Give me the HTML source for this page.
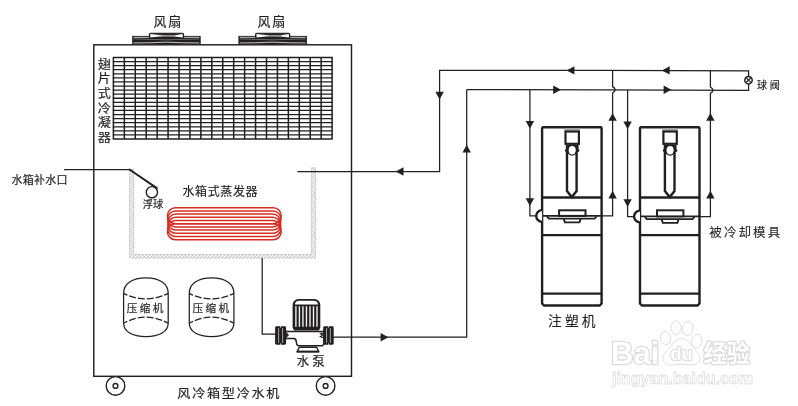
<!DOCTYPE html>
<html lang="zh-CN">
<head>
<meta charset="utf-8">
<title>风冷箱型冷水机</title>
<style>
html,body{margin:0;padding:0;background:#fff;}
body{width:798px;height:406px;overflow:hidden;}
svg{display:block;will-change:transform;}
text{font-family:"Liberation Sans","Noto Sans CJK SC",sans-serif;fill:#231f20;stroke:#231f20;stroke-width:0.18;}
.l{stroke:#231f20;fill:none;stroke-width:1.25;}
.t{stroke:#231f20;fill:none;stroke-width:2.4;}
.a{fill:#231f20;stroke:none;}
text.wm{fill:#fff;stroke:#dadada;stroke-width:0.9;}
text.wm2{fill:#fff;stroke:#dcdcdc;stroke-width:2.6;paint-order:stroke;stroke-linejoin:round;}
</style>
</head>
<body>
<svg width="798" height="406" viewBox="0 0 798 406">
<rect width="798" height="406" fill="#fff"/>

<!-- cabinet -->
<rect style="stroke-width:1.45" class="l" x="93.8" y="44.8" width="257.7" height="331.5"/>
<!-- fans -->
<g transform="translate(132.2,0)">
<rect x="0" y="35.9" width="68.5" height="8.4" fill="#231f20"/>
<path d="M1.4 37.3H67.1" stroke="#fff" stroke-width="0.75"/>
<path d="M1.4 38.9Q34 40.8 67.100 38.9" stroke="#9a9a9a" stroke-width="0.6" fill="none"/>
<path d="M1.4 42.9Q18 43 30 42.300L34.300 42.2L38.500 42.300Q50 43 67.100 42.9" stroke="#fff" stroke-width="0.75" fill="none"/>
<rect x="17.200" y="33.3" width="34.2" height="4.9" rx="1.2" fill="#231f20" stroke="#231f20" stroke-width="1.1"/>
<path d="M18.100 34L29.500 35.3V36.3L18.100 37.6Z M50.5 34L42.5 35.200V36.400L50.5 37.600Z" fill="#fff"/>
<path d="M29 35.400L42.5 36.600M29 36.400L42.5 35.200" stroke="#fff" stroke-width="0.5" fill="none"/>
</g>
<g transform="translate(238.4,0)">
<rect x="0" y="35.9" width="68.5" height="8.4" fill="#231f20"/>
<path d="M1.4 37.3H67.1" stroke="#fff" stroke-width="0.75"/>
<path d="M1.4 38.9Q34 40.8 67.100 38.9" stroke="#9a9a9a" stroke-width="0.6" fill="none"/>
<path d="M1.4 42.9Q18 43 30 42.300L34.300 42.2L38.500 42.300Q50 43 67.100 42.9" stroke="#fff" stroke-width="0.75" fill="none"/>
<rect x="17.200" y="33.3" width="34.2" height="4.9" rx="1.2" fill="#231f20" stroke="#231f20" stroke-width="1.1"/>
<path d="M18.100 34L29.500 35.3V36.3L18.100 37.6Z M50.5 34L42.5 35.200V36.400L50.5 37.600Z" fill="#fff"/>
<path d="M29 35.400L42.5 36.600M29 36.400L42.5 35.200" stroke="#fff" stroke-width="0.5" fill="none"/>
</g>
<text x="153.6" y="26.3" font-size="13" letter-spacing="1.6">风扇</text>
<text x="257.6" y="26.3" font-size="13" letter-spacing="1.6">风扇</text>
<!-- condenser -->
<path d="M112.8 57.50H332.7M112.8 61.58H332.7M112.8 65.65H332.7M112.8 69.72H332.7M112.8 73.80H332.7M112.8 77.88H332.7M112.8 81.95H332.7M112.8 86.03H332.7M112.8 90.10H332.7M112.8 94.17H332.7M112.8 98.25H332.7M112.8 102.33H332.7M112.8 106.40H332.7M112.8 110.47H332.7M112.8 114.55H332.7M112.8 118.62H332.7M112.8 122.70H332.7M112.8 126.78H332.7M112.8 130.85H332.7M112.8 134.93H332.7M112.8 139.00H332.7" stroke="#231f20" stroke-width="1.3" fill="none"/>
<path d="M113.40 57.5V139.0M124.34 57.5V139.0M135.27 57.5V139.0M146.21 57.5V139.0M157.14 57.5V139.0M168.07 57.5V139.0M179.01 57.5V139.0M189.94 57.5V139.0M200.88 57.5V139.0M211.81 57.5V139.0M222.75 57.5V139.0M233.69 57.5V139.0M244.62 57.5V139.0M255.56 57.5V139.0M266.49 57.5V139.0M277.43 57.5V139.0M288.36 57.5V139.0M299.30 57.5V139.0M310.23 57.5V139.0M321.17 57.5V139.0M332.10 57.5V139.0" stroke="#231f20" stroke-width="1.5" fill="none"/>
<text transform="translate(104.3 68.7) scale(1.05 0.97)" font-size="12.5" text-anchor="middle"><tspan x="0" y="0.00">翅</tspan><tspan x="0" y="15.07">片</tspan><tspan x="0" y="30.14">式</tspan><tspan x="0" y="45.22">冷</tspan><tspan x="0" y="60.29">凝</tspan><tspan x="0" y="75.36">器</tspan></text>
<!-- water tank -->
<path d="M129.6 172.0L133.2 169.5M129.6 174.5L133.7 171.6M129.6 177.0L133.7 174.1M129.6 179.5L133.7 176.6M129.6 182.0L133.7 179.1M129.6 184.5L133.7 181.6M129.6 187.0L133.7 184.1M129.6 189.5L133.7 186.6M129.6 192.0L133.7 189.1M129.6 194.5L133.7 191.6M129.6 197.0L133.7 194.1M129.6 199.5L133.7 196.6M129.6 202.0L133.7 199.1M129.6 204.5L133.7 201.6M129.6 207.0L133.7 204.1M129.6 209.5L133.7 206.6M129.6 212.0L133.7 209.1M129.6 214.5L133.7 211.6M129.6 217.0L133.7 214.1M129.6 219.5L133.7 216.6M129.6 222.0L133.7 219.1M129.6 224.5L133.7 221.6M129.6 227.0L133.7 224.1M129.6 229.5L133.7 226.6M129.6 232.0L133.7 229.1M129.6 234.5L133.7 231.6M129.6 237.0L133.7 234.1M129.6 239.5L133.7 236.6M129.6 242.0L133.7 239.1M129.6 244.5L133.7 241.6M129.6 247.0L133.7 244.1M129.6 249.5L133.7 246.6M129.6 252.0L133.7 249.1M129.6 254.5L133.7 251.6M129.6 257.0L133.7 254.1M131.7 258.0L133.7 256.6M133.7 256.6L136.6 254.6M135.3 258.0L140.2 254.6M138.9 258.0L143.7 254.6M142.5 258.0L147.3 254.6M146.0 258.0L150.9 254.6M149.6 258.0L154.5 254.6M153.2 258.0L158.0 254.6M156.7 258.0L161.6 254.6M160.3 258.0L165.2 254.6M163.9 258.0L168.7 254.6M167.5 258.0L172.3 254.6M171.0 258.0L175.9 254.6M174.6 258.0L179.5 254.6M178.2 258.0L183.0 254.6M181.7 258.0L186.6 254.6M311.3 169.8L314.2 167.8M185.3 258.0L190.2 254.6M311.3 172.3L315.4 169.4M188.9 258.0L193.7 254.6M311.3 174.8L315.4 171.9M192.5 258.0L197.3 254.6M311.3 177.3L315.4 174.4M196.0 258.0L200.9 254.6M311.3 179.8L315.4 176.9M199.6 258.0L204.5 254.6M311.3 182.3L315.4 179.4M203.2 258.0L208.0 254.6M311.3 184.8L315.4 181.9M206.7 258.0L211.6 254.6M311.3 187.3L315.4 184.4M210.3 258.0L215.2 254.6M311.3 189.8L315.4 186.9M213.9 258.0L218.7 254.6M311.3 192.3L315.4 189.4M217.5 258.0L222.3 254.6M311.3 194.8L315.4 191.9M221.0 258.0L225.9 254.6M311.3 197.3L315.4 194.4M224.6 258.0L229.5 254.6M311.3 199.8L315.4 196.9M228.2 258.0L233.0 254.6M311.3 202.3L315.4 199.4M231.7 258.0L236.6 254.6M311.3 204.8L315.4 201.9M235.3 258.0L240.2 254.6M311.3 207.3L315.4 204.4M238.9 258.0L243.7 254.6M311.3 209.8L315.4 206.9M242.5 258.0L247.3 254.6M311.3 212.3L315.4 209.4M246.0 258.0L250.9 254.6M311.3 214.8L315.4 211.9M249.6 258.0L254.5 254.6M311.3 217.3L315.4 214.4M253.2 258.0L258.0 254.6M311.3 219.8L315.4 216.9M256.7 258.0L261.6 254.6M311.3 222.3L315.4 219.4M260.3 258.0L265.2 254.6M311.3 224.8L315.4 221.9M263.9 258.0L268.7 254.6M311.3 227.3L315.4 224.4M267.5 258.0L272.3 254.6M311.3 229.8L315.4 226.9M271.0 258.0L275.9 254.6M311.3 232.3L315.4 229.4M274.6 258.0L279.5 254.6M311.3 234.8L315.4 231.9M278.2 258.0L283.0 254.6M311.3 237.3L315.4 234.4M281.7 258.0L286.6 254.6M311.3 239.8L315.4 236.9M285.3 258.0L290.2 254.6M311.3 242.3L315.4 239.4M288.9 258.0L293.7 254.6M311.3 244.8L315.4 241.9M292.5 258.0L297.3 254.6M311.3 247.3L315.4 244.4M296.0 258.0L300.9 254.6M311.3 249.8L315.4 246.9M299.6 258.0L304.5 254.6M311.3 252.3L315.4 249.4M303.2 258.0L308.0 254.6M311.3 254.8L315.4 251.9M306.7 258.0L311.3 254.8M311.3 257.3L315.4 254.4M310.3 258.0L311.3 257.3M313.9 258.0L315.4 256.9" stroke="#9e9e9e" stroke-width="0.65" fill="none"/>
<path d="M129.6 169.5V258H315.4V167.8H311.3V254.6H133.7V169.5Z" fill="none" stroke="#b8b8b8" stroke-width="0.6"/>
<path class="l" d="M64 169.5H129.5"/>
<path d="M129.5 169.5L156.8 188.2" stroke="#231f20" stroke-width="2.0" fill="none" stroke-linecap="round"/>
<circle cx="151.9" cy="192.2" r="5.6" stroke="#231f20" stroke-width="1.4" fill="none"/>
<text x="11.6" y="184.3" font-size="11" letter-spacing="0.2">水箱补水口</text>
<text x="142.7" y="208.3" font-size="10.3" letter-spacing="0">浮球</text>
<text x="182.5" y="195.8" font-size="12" letter-spacing="0.6">水箱式蒸发器</text>
<g stroke="#d72c22" stroke-width="1.5" fill="none">
<rect x="167.4" y="207.70" width="113.8" height="16" rx="8" ry="8"/>
<rect x="167.65" y="210.90" width="113.3" height="16" rx="8" ry="8"/>
<rect x="167.9" y="214.10" width="112.8" height="16" rx="8" ry="8"/>
<rect x="167.9" y="217.30" width="112.8" height="16" rx="8" ry="8"/>
<rect x="167.65" y="220.50" width="113.3" height="16" rx="8" ry="8"/>
<rect x="167.4" y="223.70" width="113.8" height="16" rx="8" ry="8"/>
</g>
<!-- compressors -->
<path class="l" d="M123.6 293.4C123.6 283.8 132.1 277.9 145.9 277.9C159.7 277.9 168.2 283.8 168.2 293.4V323.2C168.2 331.4 159.7 336.5 145.9 336.5C132.1 336.5 123.6 331.4 123.6 323.2Z"/>
<path class="l" stroke-dasharray="7 2" stroke-dashoffset="3" d="M123.6 293.4Q145.9 304.4 168.2 293.4"/>
<path class="l" stroke-dasharray="7 2" stroke-dashoffset="3" d="M123.6 323.2Q145.9 311.200 168.2 323.2"/>
<text x="126.8" y="311.8" font-size="10.6" letter-spacing="2.4">压缩机</text>
<path class="l" d="M189.3 293.4C189.3 283.8 197.8 277.9 211.6 277.9C225.4 277.9 233.9 283.8 233.9 293.4V323.2C233.9 331.4 225.4 336.5 211.6 336.5C197.8 336.5 189.3 331.4 189.3 323.2Z"/>
<path class="l" stroke-dasharray="7 2" stroke-dashoffset="3" d="M189.3 293.4Q211.6 304.4 233.9 293.4"/>
<path class="l" stroke-dasharray="7 2" stroke-dashoffset="3" d="M189.3 323.2Q211.6 311.200 233.9 323.2"/>
<text x="192.5" y="311.8" font-size="10.6" letter-spacing="2.4">压缩机</text>
<!-- pump -->
<path class="l" d="M262.2 258V334.1H275.5"/>
<path class="l" d="M333 337.2H466.7V89.7"/>
<path d="M292.6 327.6V305A6 6 0 0 1 298.6 298.9H314.3A6 6 0 0 1 320.3 305V327.6L319 330.6H294Z" fill="#231f20"/>
<path d="M294.9 304.6A4.2 3.8 0 0 1 299.1 300.7H313.8A4.2 3.8 0 0 1 318 304.6Z" fill="#fff"/>
<path d="M295.90 306.2V326.8M299.42 306.2V326.8M302.94 306.2V326.8M306.46 306.2V326.8M309.98 306.2V326.8M313.50 306.2V326.8M317.02 306.2V326.8" stroke="#f4f4f4" stroke-width="1.35" fill="none"/>
<path d="M285.5 331.5H324V344L322.3 345.7H298.2Q296.3 344.8 296.3 342Q296.3 338.6 293.5 338.6H285.5Z" fill="#fff" stroke="#231f20" stroke-width="1.5" stroke-linejoin="round"/>
<path d="M286.2 332.5L288.6 335L286.2 337.5Z" fill="#231f20" stroke="#231f20" stroke-width="0.8"/>
<path d="M324 333L320.6 333.6L322.6 335.2L320.4 336.6L324 338" stroke="#231f20" stroke-width="1.2" fill="none"/>
<rect x="275.1" y="326.3" width="11.0" height="18.4" rx="1.4" fill="#231f20"/><path d="M278.62 328V343M282.58 328V343" stroke="#c9c9c9" stroke-width="0.8"/><path d="M280.10 326.2h1v1.3h-1zM280.10 343.5h1v1.3h-1z" fill="#fff"/>
<rect x="323.2" y="326.3" width="10.5" height="18.4" rx="1.4" fill="#231f20"/><path d="M326.56 328V343M330.34 328V343" stroke="#c9c9c9" stroke-width="0.8"/><path d="M327.95 326.2h1v1.3h-1zM327.95 343.5h1v1.3h-1z" fill="#fff"/>
<path d="M299.3 347.3H316.6L318.9 351.9H297Z" fill="#fff" stroke="#231f20" stroke-width="1.4" stroke-linejoin="round"/>
<path d="M297 351.5H318.9" stroke="#231f20" stroke-width="1.8"/>
<text x="296.8" y="366.2" font-size="12.5" letter-spacing="2.9">水泵</text>
<!-- wheels -->
<circle style="stroke-width:1.4;fill:#fff" class="l" cx="115.5" cy="385.9" r="9.3"/>
<circle style="stroke-width:1.4" class="l" cx="115.5" cy="385.9" r="2.4"/>
<circle style="stroke-width:1.4;fill:#fff" class="l" cx="325.6" cy="385.9" r="9.3"/>
<circle style="stroke-width:1.4" class="l" cx="325.6" cy="385.9" r="2.4"/>
<text transform="translate(177.3 397.9) scale(1.05 1)" font-size="12.5" letter-spacing="1.65">风冷箱型冷水机</text>
<!-- pipes -->
<path class="l" d="M297.3 171.5H439.6V70.4L600 70.4L748.6 70.8V90.4L600 89.8L466.7 89.7"/>
<circle cx="748.5" cy="80.2" r="3.7" fill="#fff" stroke="#231f20" stroke-width="1.5"/>
<path d="M746 77.7L751 82.7M751 77.7L746 82.7" stroke="#231f20" stroke-width="1.2"/>
<text x="756.9" y="88.9" font-size="10" letter-spacing="2.9">球阀</text>
<path class="l" d="M529.9 89.7V215.9H535.9"/>
<path class="l" d="M627.6 89.7V216.5H633.6"/>
<path class="l" d="M612.6 70.4V86.6Q615.2 88.2 615.2 89.8Q615.2 91.4 612.6 93.0V215.9H601.6"/>
<path class="l" d="M710.4 70.7V87.0Q713.0 88.6 713.0 90.2Q713.0 91.8 710.4 93.4V216.5H699.4"/>
<polygon class="a" points="388.4,337.2 380.59999999999997,333.0 380.59999999999997,341.4"/>
<polygon class="a" points="395.7,171.5 403.5,167.3 403.5,175.7"/>
<polygon class="a" points="439.6,99.6 435.40000000000003,91.8 443.8,91.8"/>
<polygon class="a" points="466.7,144.8 462.5,152.60000000000002 470.9,152.60000000000002"/>
<polygon class="a" points="566.6,70.4 574.4,66.2 574.4,74.60000000000001"/>
<polygon class="a" points="661.9,70.4 669.6999999999999,66.2 669.6999999999999,74.60000000000001"/>
<polygon class="a" points="561,89.7 553.2,85.5 553.2,93.9"/>
<polygon class="a" points="671.4,89.7 663.6,85.5 663.6,93.9"/>
<polygon class="a" points="529.9,128.8 525.6999999999999,121.00000000000001 534.1,121.00000000000001"/>
<polygon class="a" points="529.9,206.0 525.6999999999999,198.2 534.1,198.2"/>
<polygon class="a" points="627.6,129.2 623.4,121.39999999999999 631.8000000000001,121.39999999999999"/>
<polygon class="a" points="627.6,207.0 623.4,199.2 631.8000000000001,199.2"/>
<polygon class="a" points="612.6,113.0 608.4,120.8 616.8000000000001,120.8"/>
<polygon class="a" points="612.6,190.8 608.4,198.60000000000002 616.8000000000001,198.60000000000002"/>
<polygon class="a" points="710.4,113.0 706.1999999999999,120.8 714.6,120.8"/>
<polygon class="a" points="710.4,190.8 706.1999999999999,198.60000000000002 714.6,198.60000000000002"/>
<!-- injection molding machines -->
<g transform="translate(542.1,0)">
<path style="fill:#fff" class="t" d="M0 128.2A1 1 0 0 1 1 127.2H58.5A1 1 0 0 1 59.5 128.2V303.5L57.5 305.5H2L0 303.5Z"/>
<path class="t" d="M0 197.5H59.5M0 235.1H59.5M0 293.6H59.5"/>
<path style="stroke-width:1.9" class="l" d="M-1 215.9H60.5"/>
<path style="fill:#fff" class="t" d="M0 210.1A5.9 5.9 0 0 0 0 221.9"/>
<rect x="22.3" y="128.2" width="15.6" height="2.4" fill="#a8a8a8"/>
<rect style="stroke-width:2.2;fill:#fff" class="t" x="23.4" y="131.5" width="13.4" height="12.3"/>
<path d="M23.7 144.6H36.5V152H23.7Z" fill="#231f20"/>
<circle cx="30.1" cy="150.6" r="5.1" fill="#231f20"/>
<path d="M22.7 150.4L24.1 148.4V152.4ZM37.5 150.4L36.1 148.4V152.4Z" fill="#231f20"/>
<ellipse cx="30.1" cy="150.2" rx="3.5" ry="4.2" fill="#fff"/>
<path style="stroke-width:2.4" class="t" d="M24.9 152V191L29.7 197L34.5 191V152" />
<rect style="stroke-width:2;fill:#fff" class="t" x="17" y="210.3" width="26.4" height="5.6"/>
<path style="stroke-width:1.8" class="t" d="M4.8 216.4L6.8 218.7H52.5L54.5 216.4" />
<path style="stroke-width:1.9" class="t" d="M21.6 218.7L22.8 222.4H37.4L38.6 218.7" />
</g>
<g transform="translate(640.0,0)">
<path style="fill:#fff" class="t" d="M0 128.2A1 1 0 0 1 1 127.2H58.5A1 1 0 0 1 59.5 128.2V303.5L57.5 305.5H2L0 303.5Z"/>
<path class="t" d="M0 197.5H59.5M0 235.1H59.5M0 293.6H59.5"/>
<path style="stroke-width:1.9" class="l" d="M-1 216.4H60.5"/>
<path style="fill:#fff" class="t" d="M0 210.6A5.9 5.9 0 0 0 0 222.4"/>
<rect x="22.3" y="128.2" width="15.6" height="2.4" fill="#a8a8a8"/>
<rect style="stroke-width:2.2;fill:#fff" class="t" x="23.4" y="131.5" width="13.4" height="12.3"/>
<path d="M23.7 144.6H36.5V152H23.7Z" fill="#231f20"/>
<circle cx="30.1" cy="150.6" r="5.1" fill="#231f20"/>
<path d="M22.7 150.4L24.1 148.4V152.4ZM37.5 150.4L36.1 148.4V152.4Z" fill="#231f20"/>
<ellipse cx="30.1" cy="150.2" rx="3.5" ry="4.2" fill="#fff"/>
<path style="stroke-width:2.4" class="t" d="M24.9 152V191L29.7 197L34.5 191V152" />
<rect style="stroke-width:2;fill:#fff" class="t" x="17" y="210.3" width="26.4" height="6.1"/>
<path style="stroke-width:1.8" class="t" d="M4.8 216.9L6.8 219.2H52.5L54.5 216.9" />
<path style="stroke-width:1.9" class="t" d="M21.6 219.2L22.8 222.9H37.4L38.6 219.2" />
</g>
<text x="548" y="325.9" font-size="13.8" letter-spacing="3.1" style="stroke-width:0.1">注塑机</text>
<text x="709.3" y="237.1" font-size="12.5" letter-spacing="2.1" style="stroke-width:0.1">被冷却模具</text>
<!-- watermark -->
<g fill="#fff" stroke="#dadada" stroke-width="0.9">
<ellipse cx="665.6" cy="338" rx="5" ry="6.6" transform="rotate(-10 665.6 338)"/>
<ellipse cx="676" cy="327.8" rx="5.1" ry="7" transform="rotate(-4 676 327.8)"/>
<ellipse cx="687.6" cy="328.5" rx="5.3" ry="7" transform="rotate(6 687.6 328.5)"/>
<ellipse cx="696.8" cy="341.3" rx="5.1" ry="7" transform="rotate(14 696.8 341.3)"/>
<path d="M681.5 338.7C676 338.7 672.5 344 669 348.3C665.5 352.3 662.800 354.5 663 358.5C663.200 363 667 365 671.5 365C676 365 678 364.2 681.5 364.2C685 364.2 687 365 691.5 365C696 365 699.800 363 700 358.5C700.200 354.500 697.500 352.300 694 348.300C690.500 344 687 338.700 681.500 338.700Z"/>
</g>
<text class="wm2" x="611" y="363.6" font-size="31" font-weight="bold">Bai</text>
<text class="wm2" x="670.4" y="359.8" font-size="18" font-weight="bold" style="stroke-width:2.2">du</text>
<text class="wm2" x="703.5" y="362.2" font-size="23.5" font-weight="bold" textLength="46.5" lengthAdjust="spacingAndGlyphs">经验</text>
<text class="wm" x="612" y="383.6" font-size="17" font-weight="bold" textLength="141" lengthAdjust="spacingAndGlyphs" style="stroke-width:0.8;stroke:#dedede">jingyan.baidu.com</text>
</svg>
</body>
</html>
